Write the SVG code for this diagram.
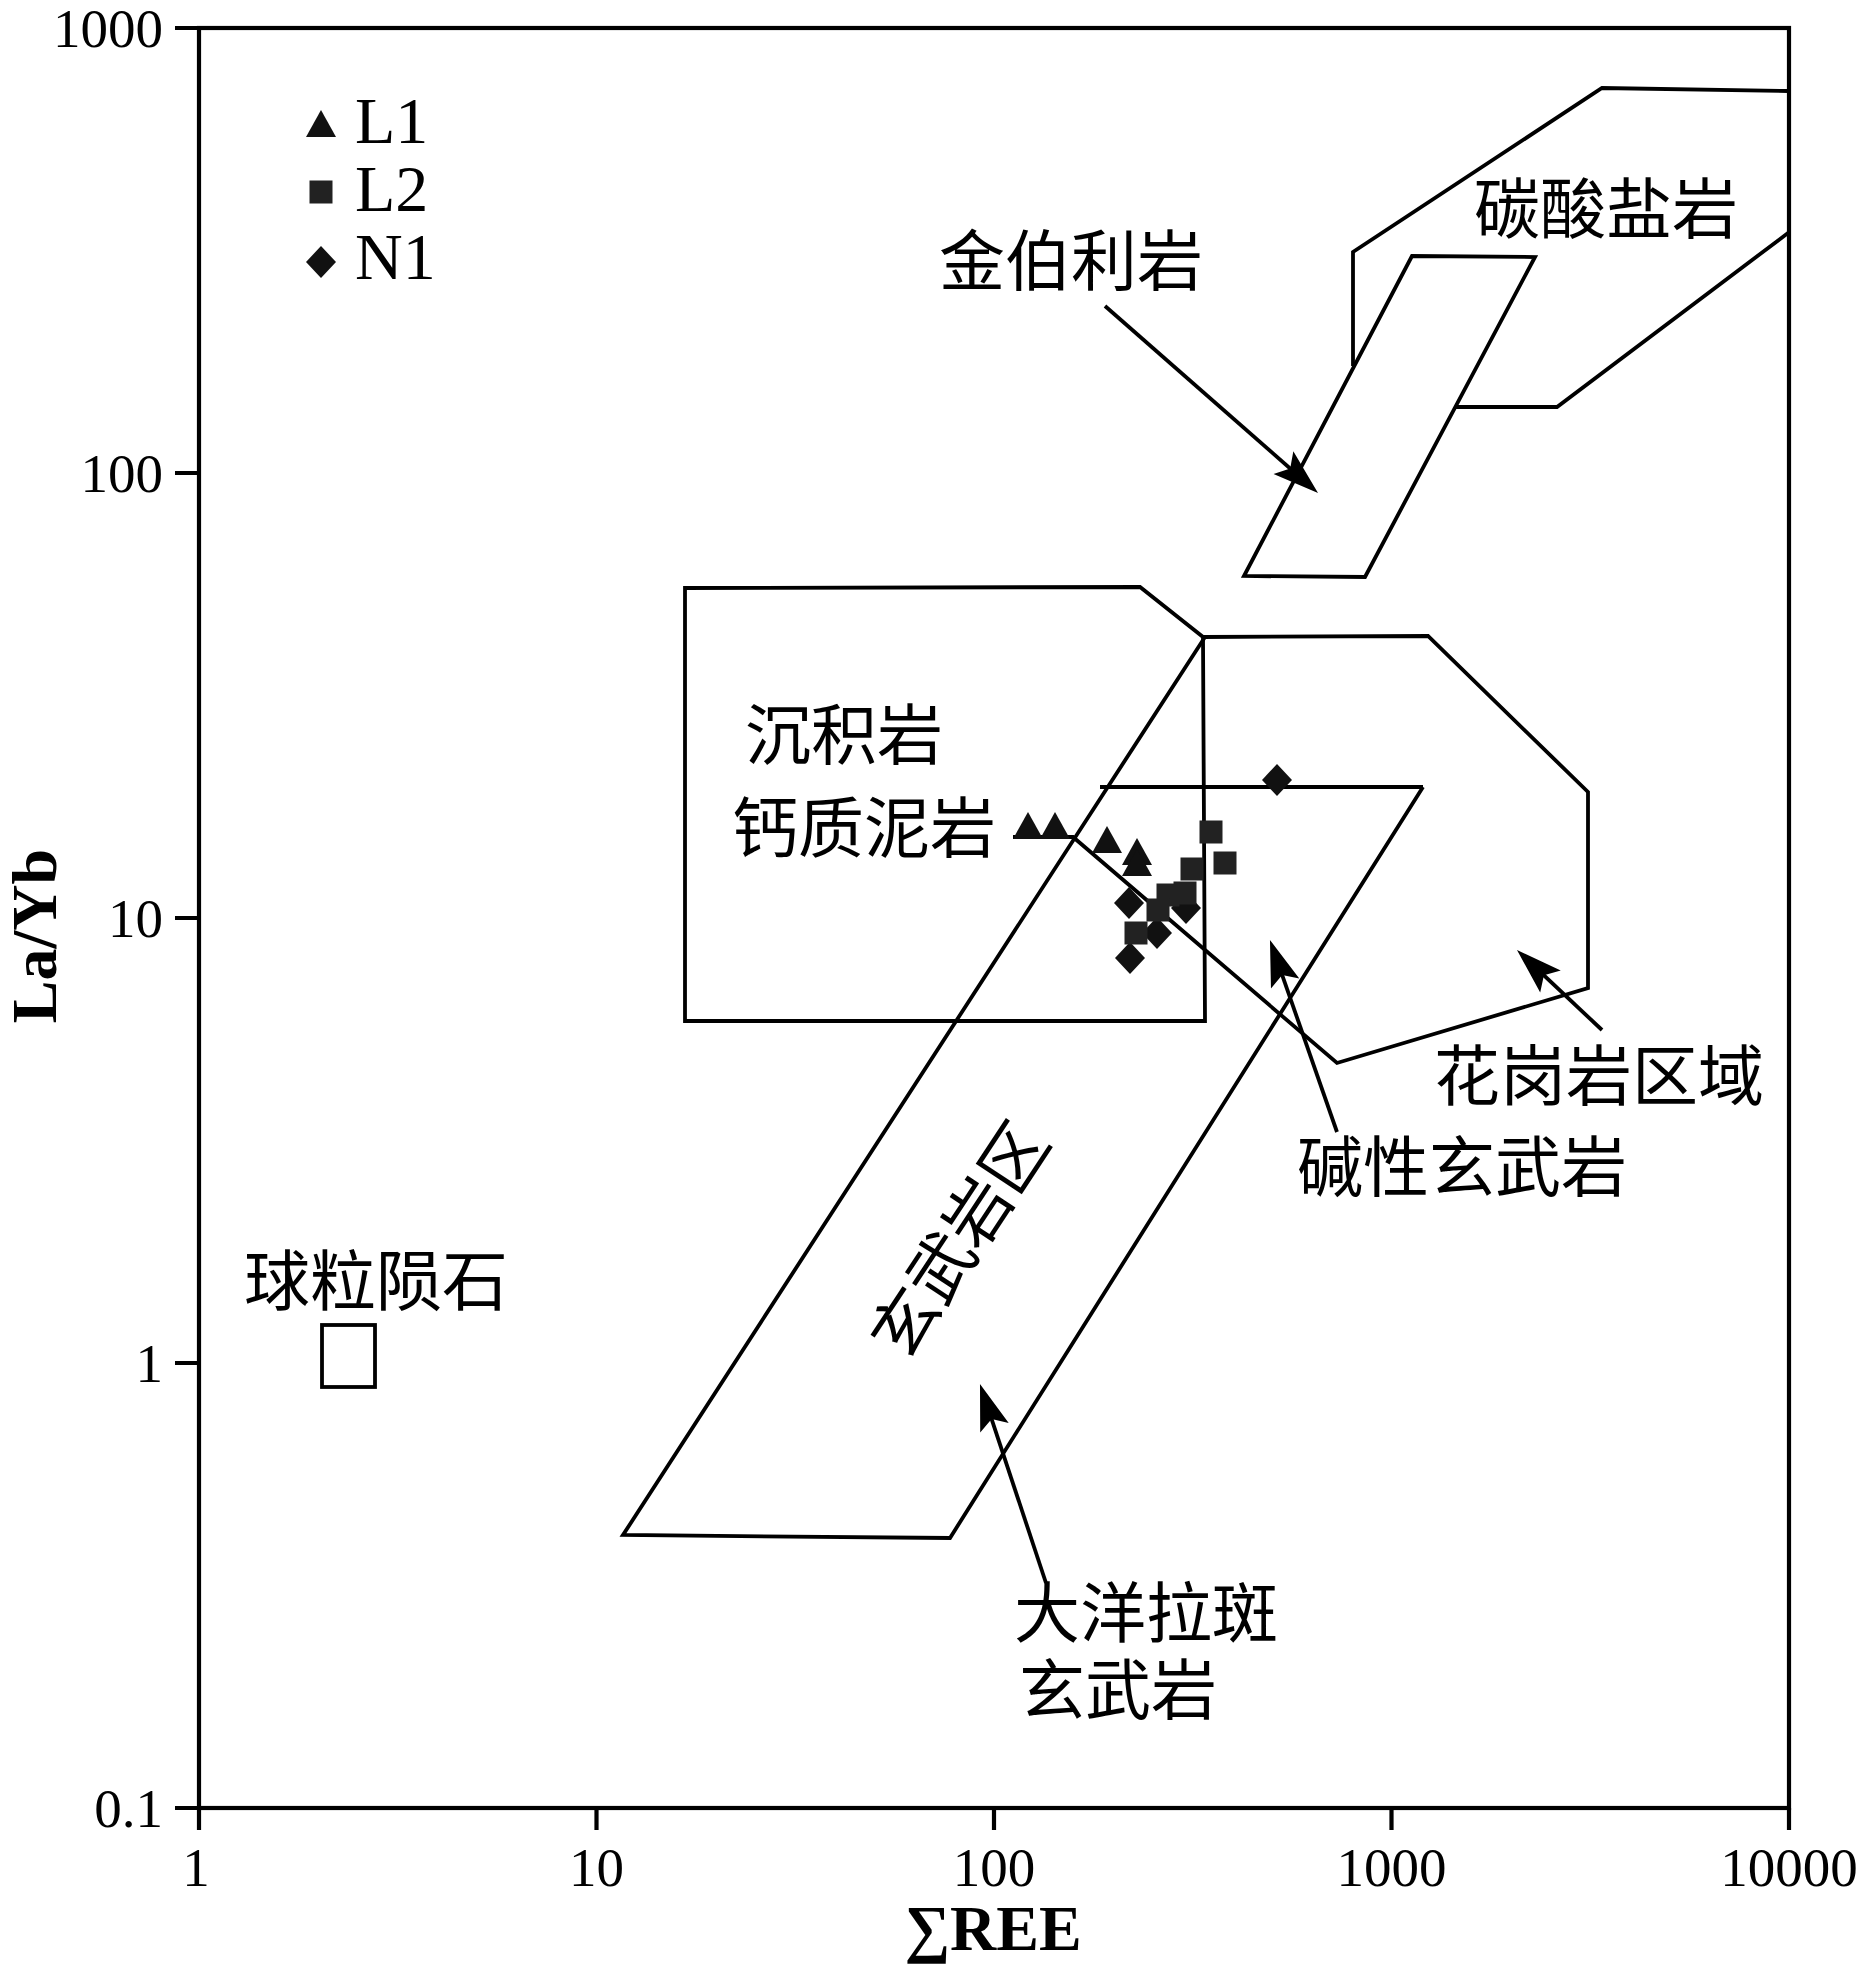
<svg xmlns="http://www.w3.org/2000/svg" width="1859" height="1965" viewBox="0 0 1859 1965">
<style>
.ax{fill:none;stroke:#000;stroke-width:4.2}
.ln{fill:none;stroke:#000;stroke-width:3.8;stroke-linejoin:miter}
.num{font-family:"Liberation Serif","Times New Roman",serif;font-size:55px;fill:#000}
.ttl{font-family:"Liberation Serif","Times New Roman",serif;font-size:64px;font-weight:bold;fill:#000}
.leg{font-family:"Liberation Serif","Times New Roman",serif;font-size:66px;fill:#000}
.cn{font-family:"Noto Sans CJK SC","Noto Sans CJK JP",sans-serif;font-size:66px;fill:#000}
.arr{fill:none;stroke:#000;stroke-width:3.8;marker-end:url(#ah)}
.mk{fill:#111}
.sq{fill:#222}
</style>
<defs>
<marker id="ah" markerUnits="userSpaceOnUse" orient="auto" refX="0" refY="0" markerWidth="100" markerHeight="100" viewBox="-50 -50 100 100" overflow="visible">
<path d="M8,0 L-38,-15 L-29,0 L-38,15 Z" fill="#000"/>
</marker>
<path id="tri" d="M0,-14 L15,13 L-15,13 Z"/>
<rect id="sqr" x="-11.5" y="-11.5" width="23" height="23"/>
<path id="dia" d="M0,-16 L15,0 L0,16 L-15,0 Z"/>
</defs>
<rect width="1859" height="1965" fill="#fff"/>

<g id="axes">
<rect x="199" y="28" width="1590" height="1780" class="ax"/>
<path class="ax" d="M175,28H199 M175,473H199 M175,918H199 M175,1363H199 M175,1808H199 M199,1808V1830 M596.5,1808V1830 M994,1808V1830 M1391.5,1808V1830 M1789,1808V1830"/>
<g class="num" text-anchor="end">
<text x="163" y="47">1000</text>
<text x="163" y="492">100</text>
<text x="163" y="937">10</text>
<text x="163" y="1382">1</text>
<text x="163" y="1827">0.1</text>
</g>
<g class="num" text-anchor="middle">
<text x="196" y="1886">1</text>
<text x="596.5" y="1886">10</text>
<text x="994" y="1886">100</text>
<text x="1391.5" y="1886">1000</text>
<text x="1789" y="1886">10000</text>
</g>
<text class="ttl" x="993" y="1950" text-anchor="middle">∑REE</text>
<text class="ttl" transform="translate(56,936) rotate(-90)" text-anchor="middle">La/Yb</text>
</g>

<g id="legend">
<use href="#tri" x="321" y="124" class="mk"/>
<use href="#sqr" x="321" y="192" class="sq"/>
<use href="#dia" x="321" y="262" class="mk"/>
<text class="leg" x="355" y="143">L1</text>
<text class="leg" x="355" y="211">L2</text>
<text class="leg" x="355" y="279">N1</text>
</g>

<g id="carbonatite">
<polyline class="ln" points="1353,366 1353,252 1602,88 1788,91"/>
<polyline class="ln" points="1788,233 1557,407 1456,407"/>
<text class="cn" x="1474" y="233">碳酸盐岩</text>
</g>

<g id="kimberlite">
<polygon class="ln" points="1244,576 1412,256 1535,257 1365,577"/>
<text class="cn" x="939" y="285">金伯利岩</text>
</g>

<g id="sediment">
<polygon class="ln" points="685,588 1140,587 1203,637 1205,1021 685,1021"/>
<text class="cn" x="745" y="759">沉积岩</text>
<text class="cn" x="732" y="852">钙质泥岩</text>
</g>

<g id="granite">
<polyline class="ln" points="1203,637 1428,636 1588,792 1588,988 1337,1063 1073,837 1013,837"/>
<text class="cn" x="1434" y="1100">花岗岩区域</text>
</g>

<g id="basalt">
<polyline class="ln" points="1205,637 623,1535 950,1538 1423,787"/>
<text class="cn" transform="translate(955,1237) rotate(-56.6)" text-anchor="middle" dominant-baseline="central">玄武岩区</text>
</g>

<g id="alkaline-basalt">
<line class="ln" x1="1100" y1="787" x2="1423" y2="787"/>
<text class="cn" x="1297" y="1191">碱性玄武岩</text>
</g>

<g id="ocean-tholeiite">
<text class="cn" x="1014" y="1637">大洋拉斑</text>
<text class="cn" x="1019" y="1714">玄武岩</text>
</g>

<g id="chondrite">
<rect class="ln" x="322" y="1325" width="53" height="62"/>
<text class="cn" x="244" y="1305">球粒陨石</text>
</g>

<g id="connectors">
<line class="arr" x1="1105" y1="306" x2="1312" y2="487.7"/>
<line class="arr" x1="1337" y1="1132" x2="1272.6" y2="947.6"/>
<line class="arr" x1="1602" y1="1030" x2="1522.8" y2="955.5"/>
<line class="arr" x1="1046" y1="1583" x2="982.5" y2="1391.6"/>
</g>

<g id="data">
<g id="N1" class="mk">
<use href="#dia" x="1277" y="780"/>
<use href="#dia" x="1129" y="903"/>
<use href="#dia" x="1186" y="908"/>
<use href="#dia" x="1157" y="933"/>
<use href="#dia" x="1130" y="958"/>
</g>
<g id="L1" class="mk">
<use href="#tri" x="1028" y="826"/>
<use href="#tri" x="1055" y="826"/>
<use href="#tri" x="1107" y="840"/>
<use href="#tri" x="1137" y="852"/>
<use href="#tri" x="1137" y="863"/>
</g>
<g id="L2" class="sq">
<use href="#sqr" x="1211" y="832"/>
<use href="#sqr" x="1225" y="863"/>
<use href="#sqr" x="1192" y="869"/>
<use href="#sqr" x="1185" y="893"/>
<use href="#sqr" x="1168" y="895"/>
<use href="#sqr" x="1158" y="910"/>
<use href="#sqr" x="1136" y="933"/>
</g>
</g>
</svg>
